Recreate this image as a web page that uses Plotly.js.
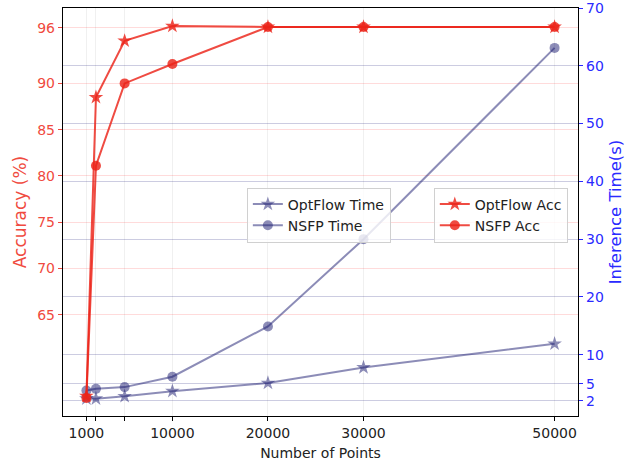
<!DOCTYPE html>
<html>
<head>
<meta charset="utf-8">
<script src="https://cdn.plot.ly/plotly-3.0.1.min.js"></script>
<style>html,body{margin:0;padding:0;background:#fff;}#chart{width:637px;height:461px;}</style>
</head>
<body>
<div id="chart"></div>
<script>
const points = [1000, 2000, 5000, 10000, 20000, 30000, 50000];
const xTickLabels = ['1000', '', '', '10000', '20000', '30000', '50000'];
const optflowAcc = [56.2, 88.5, 94.6, 96.2, 96.1, 96.1, 96.1];
const nsfpAcc = [56.0, 81.1, 90.0, 92.1, 96.1, 96.1, 96.1];
const optflowTime = [2.4, 2.4, 2.8, 3.7, 5.1, 7.8, 11.9];
const nsfpTime = [3.8, 4.1, 4.4, 6.2, 14.9, 30.0, 63.1];
const accTicks = [65, 70, 75, 80, 85, 90, 96];
const timeTicks = [2, 5, 10, 20, 30, 40, 50, 60, 70];

const RED = 'rgba(236,35,25,0.82)';
const BLUE = 'rgba(25,25,112,0.5)';
const font = 'DejaVu Sans, sans-serif';

const traces = [
  {x: points, y: optflowTime, name: 'OptFlow Time', mode: 'lines+markers', yaxis: 'y', legend: 'legend',
   line: {color: BLUE, width: 2}, marker: {symbol: 'star', size: 11, color: BLUE, line: {width: 0}}},
  {x: points, y: nsfpTime, name: 'NSFP Time', mode: 'lines+markers', yaxis: 'y', legend: 'legend',
   line: {color: BLUE, width: 2}, marker: {symbol: 'circle', size: 10, color: BLUE, line: {width: 0}}},
  {x: points, y: optflowAcc, name: 'OptFlow Acc', mode: 'lines+markers', yaxis: 'y2', legend: 'legend2',
   line: {color: RED, width: 2}, marker: {symbol: 'star', size: 11, color: RED, line: {width: 0}}},
  {x: points, y: nsfpAcc, name: 'NSFP Acc', mode: 'lines+markers', yaxis: 'y2', legend: 'legend2',
   line: {color: RED, width: 2}, marker: {symbol: 'circle', size: 10, color: RED, line: {width: 0}}}
];

const layout = {
  width: 637, height: 461,
  margin: {l: 63, r: 59, t: 8, b: 45},
  paper_bgcolor: '#fff', plot_bgcolor: '#fff',
  font: {family: font, size: 14, color: '#222'},
  xaxis: {
    range: [-1450, 52450], tickvals: points, ticktext: xTickLabels,
    showgrid: true, gridcolor: 'rgba(0,0,0,0.06)', gridwidth: 1,
    showline: true, linecolor: '#000', linewidth: 1.2, mirror: true,
    ticks: 'outside', ticklen: 4, tickcolor: '#000', zeroline: false,
    tickfont: {size: 14, color: '#222'},
    title: {text: 'Number of Points', font: {size: 14, color: '#222'}, standoff: 8}
  },
  yaxis: {
    side: 'right', range: [-0.6, 70.001], tickvals: timeTicks,
    showgrid: true, gridcolor: 'rgba(40,40,130,0.24)', gridwidth: 1,
    showline: true, linecolor: '#000', linewidth: 1.2, zeroline: false,
    ticks: 'outside', ticklen: 4, tickcolor: '#2a2aff', ticklabeloverflow: 'allow',
    tickfont: {size: 14, color: '#2a2aff'},
    title: {text: 'Inference Time(s)', font: {size: 16.5, color: '#2a2aff'}, standoff: 6}
  },
  yaxis2: {
    side: 'left', overlaying: 'y', range: [54.05, 98.15], tickvals: accTicks,
    showgrid: true, gridcolor: 'rgba(255,0,0,0.14)', gridwidth: 1,
    showline: true, linecolor: '#000', linewidth: 1.2, zeroline: false,
    ticks: 'outside', ticklen: 4, tickcolor: '#f04a40', ticklabeloverflow: 'allow',
    tickfont: {size: 14, color: '#f04a40'},
    title: {text: 'Accuracy (%)', font: {size: 17, color: '#f04a40'}, standoff: 6}
  },
  legend: {
    x: 0.357, y: 0.56, xanchor: 'left', yanchor: 'top',
    bgcolor: 'rgba(255,255,255,0.8)', bordercolor: '#d0d0d0', borderwidth: 1,
    font: {size: 14, color: '#222'}, tracegroupgap: 0, itemwidth: 30
  },
  legend2: {
    x: 0.72, y: 0.56, xanchor: 'left', yanchor: 'top',
    bgcolor: 'rgba(255,255,255,0.8)', bordercolor: '#d0d0d0', borderwidth: 1,
    font: {size: 14, color: '#222'}, tracegroupgap: 0, itemwidth: 30
  },
  showlegend: true
};

Plotly.newPlot('chart', traces, layout, {displayModeBar: false, staticPlot: true});
</script>
</body>
</html>
